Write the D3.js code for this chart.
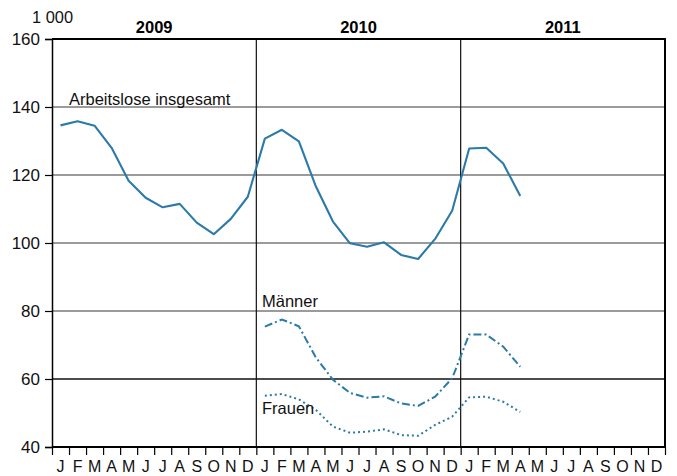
<!DOCTYPE html>
<html><head><meta charset="utf-8">
<script src="https://cdn.jsdelivr.net/npm/d3@7"></script>
<style>body{margin:0;background:#fff}svg{display:block;font-family:"Liberation Sans",Arial,sans-serif}</style>
</head><body><svg id="c" width="677" height="476"></svg>
<script>
const months = ["J","F","M","A","M","J","J","A","S","O","N","D"];
const years = ["2009","2010","2011"];
const yTicks = [40,60,80,100,120,140,160];
// index 0 = Jan 2009
const total = [134.6,135.8,134.5,128.0,118.3,113.3,110.5,111.5,106.0,102.6,107.1,113.6,
               130.7,133.3,129.9,116.6,106.3,99.9,98.9,100.2,96.5,95.3,101.2,109.5,
               127.8,128.0,123.4,113.8];
const maenner = [75.4,77.5,75.5,66.3,59.8,55.9,54.5,54.9,52.8,52.1,54.8,60.2,
                 73.1,73.1,69.5,63.6]; // from Jan 2010
const frauen = [55.1,55.6,54.0,50.9,46.0,44.2,44.5,45.2,43.5,43.3,46.5,48.9,
                54.6,54.8,53.3,50.3]; // from Jan 2010

const svg = d3.select("#c");
const L=52,R=665,T=39,B=447;
const nM = 36;
const x = d3.scaleLinear().domain([0,nM]).range([L,R]);
const y = d3.scaleLinear().domain([40,160]).range([B,T]);
const col = "#2b7aa8";

// horizontal grid
yTicks.filter(v=>v>40&&v<160).forEach(v=>{
  svg.append("line").attr("x1",L).attr("x2",R).attr("y1",y(v)).attr("y2",y(v))
    .attr("stroke", v===60?"#111":"#7a7a7a").attr("stroke-width", v===60?1.3:1.6);
});
// year separators
[12,24].forEach(m=>{
  svg.append("line").attr("x1",x(m)).attr("x2",x(m)).attr("y1",T).attr("y2",B)
    .attr("stroke","#111").attr("stroke-width",1.2);
});
// frame
svg.append("line").attr("x1",L).attr("x2",R+1).attr("y1",T).attr("y2",T).attr("stroke","#000").attr("stroke-width",2);
svg.append("line").attr("x1",L).attr("x2",R+1).attr("y1",B).attr("y2",B).attr("stroke","#000").attr("stroke-width",2);
svg.append("line").attr("x1",R).attr("x2",R).attr("y1",T).attr("y2",B).attr("stroke","#000").attr("stroke-width",2);

// y axis
const yAxis = d3.axisLeft(y).tickValues(yTicks).tickSize(7).tickPadding(5).tickFormat(d3.format("d"));
const gy = svg.append("g").attr("transform",`translate(${L},0)`).call(yAxis);
gy.select(".domain").attr("stroke","#000").attr("stroke-width",1.5);
gy.selectAll(".tick line").attr("stroke","#000").attr("stroke-width",1.2);
gy.selectAll(".tick text").attr("font-size",17).attr("fill","#111").attr("font-family","Liberation Sans, Arial, sans-serif");

// x axis ticks at boundaries
const gx = svg.append("g").attr("transform",`translate(0,${B})`)
  .call(d3.axisBottom(x).tickValues(d3.range(0,nM+1)).tickSize(8).tickFormat(""));
gx.select(".domain").remove();
gx.selectAll(".tick line").attr("stroke","#000").attr("stroke-width",1.2);
// month labels
const mIdx = d3.range(nM);
svg.append("g").selectAll("text").data(mIdx).join("text")
  .attr("x",i=>x(i+0.5)).attr("y",472).attr("text-anchor","middle")
  .attr("font-size",16).attr("fill","#111").text(i=>months[i%12]);
// year labels
svg.append("g").selectAll("text").data(years).join("text")
  .attr("x",(d,i)=>x(i*12+6)).attr("y",33).attr("text-anchor","middle")
  .attr("font-size",16.5).attr("font-weight","bold").attr("fill","#000").text(d=>d);
svg.append("text").attr("x",32).attr("y",22.5).attr("font-size",16.4).attr("fill","#111").text("1 000");

// lines
const line = d3.line().x(d=>x(d.i+0.5)).y(d=>y(d.v));
svg.append("path").datum(total.map((v,i)=>({i,v}))).attr("d",line)
  .attr("fill","none").attr("stroke",col).attr("stroke-width",2.1).attr("stroke-linejoin","round");
svg.append("path").datum(maenner.map((v,i)=>({i:i+12,v}))).attr("d",line)
  .attr("fill","none").attr("stroke",col).attr("stroke-width",2).attr("stroke-dasharray","8,3,2,3");
svg.append("path").datum(frauen.map((v,i)=>({i:i+12,v}))).attr("d",line)
  .attr("fill","none").attr("stroke",col).attr("stroke-width",2).attr("stroke-dasharray","2,3");

// labels
const lab = (t,xx,yy)=>svg.append("text").attr("x",xx).attr("y",yy).attr("font-size",16.5).attr("fill","#111").text(t);
lab("Arbeitslose insgesamt",69,105);
lab("Männer",262,307);
lab("Frauen",262,414);
</script></body></html>
